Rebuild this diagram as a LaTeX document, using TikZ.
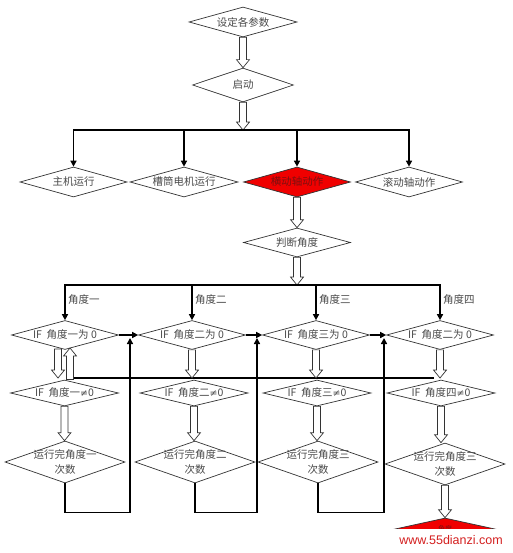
\documentclass[tikz,border=0pt]{standalone}
\usepackage{fontspec}
\newfontfamily\cjk{Noto Sans CJK SC}
\newfontfamily\wmfont{Liberation Sans}
\newfontfamily\symfont{DejaVu Serif}
\usetikzlibrary{shapes.geometric,arrows.meta,calc}
\newcommand\zt[1]{\makebox[0pt]{#1}}
\newcommand\myneq{{\symfont\fontsize{9.5}{10}\selectfont ≠}}
\newcommand\hdown[2]{\draw[hollow] let \p1=(#1), \p2=(#2) in (\x1-3.5pt,\y1) -- (\x1-3.5pt,\y2+8pt) -- (\x1-6.5pt,\y2+8pt) -- (\x1,\y2) -- (\x1+6.5pt,\y2+8pt) -- (\x1+3.5pt,\y2+8pt) -- (\x1+3.5pt,\y1) -- cycle;}
\newcommand\hup[2]{\draw[hollow] let \p1=(#1), \p2=(#2) in (\x1-3.5pt,\y1) -- (\x1-3.5pt,\y2-8pt) -- (\x1-6.5pt,\y2-8pt) -- (\x1,\y2) -- (\x1+6.5pt,\y2-8pt) -- (\x1+3.5pt,\y2-8pt) -- (\x1+3.5pt,\y1) -- cycle;}
\definecolor{txt}{HTML}{4A4A4A}
\definecolor{redfill}{HTML}{F00000}
\definecolor{redtxt}{HTML}{7A1010}
\definecolor{wmred}{HTML}{D42020}
\tikzset{
  dia/.style={shape=diamond, draw=black!80, line width=0.7pt, inner sep=0pt, aspect=3.5,
    font=\cjk\fontsize{10.5}{15}\selectfont, text=txt, align=center},
  d1/.style={dia, minimum width=107pt, minimum height=29pt},
  d2/.style={dia, minimum width=108pt, minimum height=26pt},
  d3/.style={dia, minimum width=120pt, minimum height=42pt},
  reddia/.style={dia, fill=redfill, text=redtxt},
  conn/.style={line width=1.7pt, draw=black, -{Triangle[length=6pt,width=6pt]}},
  plain/.style={line width=1.7pt, draw=black},
  hollow/.style={draw=black!80, fill=white, line width=0.7pt, line join=miter},
  lbl/.style={font=\cjk\fontsize{10.5}{12}\selectfont, text=txt, inner sep=0pt, anchor=west},
}
\begin{document}
\begin{tikzpicture}[x=1pt,y=-1pt]
\fill[white] (0,0) rectangle (512,553);
\useasboundingbox (0,0) rectangle (512,553);

% top
\node[d1, minimum width=108pt, minimum height=30pt] (set) at (243,22) {\zt{设定各参数}};
\node[d1, minimum width=101pt, minimum height=34pt] (start) at (243,85) {\zt{启动}};
\coordinate (bar1) at (243,130);
\hdown{set.south}{start.north}
\hdown{start.south}{bar1}

% row 2
\node[d1, minimum height=30pt] (c1) at (73.5,182) {\zt{主机运行}};
\node[d1, minimum width=108pt, minimum height=30pt] (c2) at (184,182) {\zt{槽筒电机运行}};
\node[reddia, minimum width=107pt, minimum height=30pt] (c3) at (297,182) {\zt{横动轴动作}};
\node[d1, minimum height=30pt] (c4) at (409,182) {\zt{滚动轴动作}};
\draw[conn] (bar1) -| (c1.north);
\draw[conn] (bar1) -| (c4.north);
\draw[conn] (c2.north |- bar1) -- (c2.north);
\draw[conn] (c3.north |- bar1) -- (c3.north);

% judge
\node[d1] (judge) at (297,242.5) {\zt{判断角度}};
\hdown{c3.south}{judge.north}
\coordinate (bar2) at (297,285);
\hdown{judge.south}{bar2}

% row 3
\node[d1] (e1) at (65,335) {\zt{IF\ \ 角度一为 0}};
\node[d1] (e2) at (192,335) {\zt{IF\ \ 角度二为 0}};
\node[d1] (e3) at (316,335) {\zt{IF\ \ 角度三为 0}};
\node[d1] (e4) at (440,335) {\zt{IF\ \ 角度二为 0}};
\draw[conn] (bar2) -| (e1.north);
\draw[conn] (bar2) -| (e4.north);
\draw[conn] (e2.north |- bar2) -- (e2.north);
\draw[conn] (e3.north |- bar2) -- (e3.north);
\node[lbl] (l1) at (68,300) {角度一};
\node[lbl] (l2) at (195,300) {角度二};
\node[lbl] (l3) at (319,300) {角度三};
\node[lbl] (l4) at (443,300) {角度四};
\draw[conn] (e1.east) -- (e2.west);
\draw[conn] (e2.east) -- (e3.west);
\draw[conn] (e3.east) -- (e4.west);

% row 4
\node[d2] (f1) at (64.5,393) {\zt{IF\ \ 角度一\myneq0}};
\node[d2] (f2) at (194,393) {\zt{IF\ \ 角度二\myneq0}};
\node[d2] (f3) at (317,393) {\zt{IF\ \ 角度三\myneq0}};
\node[d2] (f4) at (441,393) {\zt{IF\ \ 角度四\myneq0}};

% return line and hollow arrows row3 -> row4
\coordinate (ret1) at (73.5,378);
\coordinate (ret2) at (434,378);
\draw[plain] (ret1) -- (ret2);
\coordinate (ha1) at (58,349);
\coordinate (hb1) at (58,378);
\coordinate (hc1) at (70,379.5);
\coordinate (hd1) at (70,348);
\hdown{ha1}{hb1}
\hup{hc1}{hd1}
\hdown{e2.south}{e2.south |- ret1}
\hdown{e3.south}{e3.south |- ret1}
\hdown{e4.south}{e4.south |- ret1}

% row 5
\node[d3] (g1) at (65,462) {\zt{运行完角度一}\\\zt{次数}};
\node[d3] (g2) at (195,462) {\zt{运行完角度二}\\\zt{次数}};
\node[d3] (g3) at (318,462) {\zt{运行完角度三}\\\zt{次数}};
\node[d3] (g4) at (445,464) {\zt{运行完角度三}\\\zt{次数}};
\hdown{f1.south}{f1.south |- g1.north}
\hdown{f2.south}{f2.south |- g2.north}
\hdown{f3.south}{f3.south |- g3.north}
\hdown{f4.south}{f4.south |- g4.north}

% loops back
\coordinate (r1) at (130,512.5);
\coordinate (t1) at (130,338);
\coordinate (r2) at (257,512.5);
\coordinate (t2) at (257,338);
\coordinate (r3) at (384,512.5);
\coordinate (t3) at (384,338);
\draw[conn] (g1.south) |- (r1) -- (t1);
\draw[conn] (g2.south) |- (r2) -- (t2);
\draw[conn] (g3.south) |- (r3) -- (t3);

% final red diamond (partly covered)
\node[reddia, minimum width=118pt, minimum height=26pt] (fin) at (445,531) {\zt{\raisebox{4pt}{\fontsize{7}{8}\selectfont 角度}}};
\hdown{g4.south}{fin.north}

% watermark
\fill[white] (380,528.5) rectangle (512,553);
\node[font=\wmfont\fontsize{12.5}{14}\selectfont, text=wmred, inner sep=0pt] (wm) at (451,540.5) {www.55dianzi.com};
\end{tikzpicture}
\end{document}
